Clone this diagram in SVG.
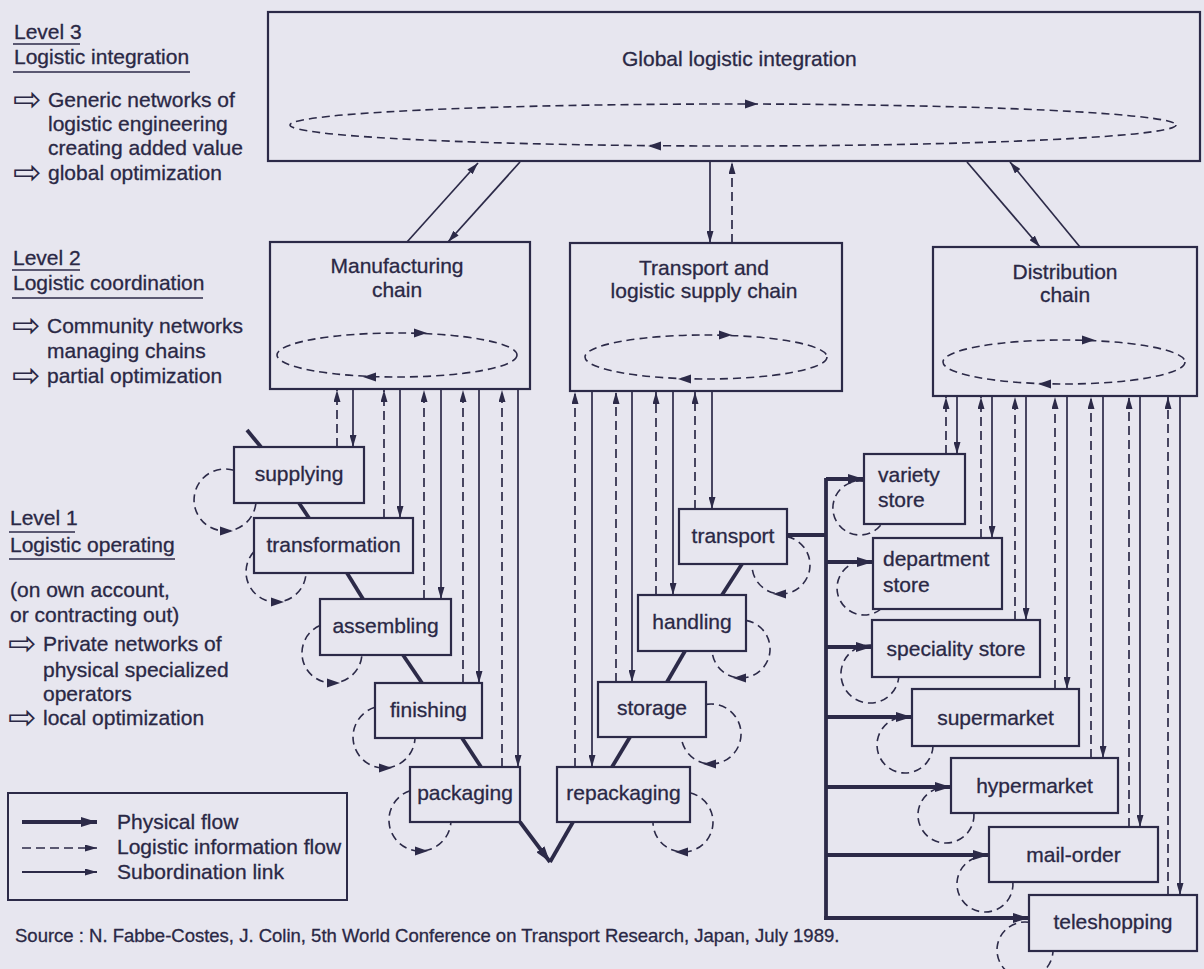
<svg xmlns="http://www.w3.org/2000/svg" xmlns:xlink="http://www.w3.org/1999/xlink" width="1204" height="969" viewBox="0 0 1204 969">
<style>
.bg{fill:#e7e6ef}
.box{fill:#e7e6ef;stroke:#2c2a48;stroke-width:2.2}
text{font-family:"Liberation Sans",Arial,Helvetica,sans-serif;font-size:21px;fill:#2a2845;stroke:#2a2845;stroke-width:0.3}
.c{text-anchor:middle}
.src{font-size:18.5px}
.sym{font-family:"DejaVu Sans",sans-serif;font-size:34px;stroke-width:0}
.sub{fill:none;stroke:#2c2a48;stroke-width:1.7;marker-end:url(#at)}
.inf{fill:none;stroke:#2c2a48;stroke-width:1.7;stroke-dasharray:9 5;marker-end:url(#at)}
.phy{fill:none;stroke:#2c2a48;stroke-width:3.8}
.phya{fill:none;stroke:#2c2a48;stroke-width:3.8;marker-end:url(#ak)}
.loop{fill:none;stroke:#2c2a48;stroke-width:1.6;stroke-dasharray:8 5}
.ul{stroke:#2c2a48;stroke-width:1.5}
.ahf{fill:#2c2a48}
</style>
<defs>
<marker id="at" viewBox="0 0 12 7" refX="12" refY="3.5" markerWidth="12" markerHeight="7" markerUnits="userSpaceOnUse" orient="auto"><path d="M0,0 L12,3.5 L0,7 Z" fill="#2c2a48"/></marker>
<marker id="ak" viewBox="0 0 16 10" refX="16" refY="5" markerWidth="16" markerHeight="10" markerUnits="userSpaceOnUse" orient="auto"><path d="M0,0 L16,5 L0,10 Z" fill="#2c2a48"/></marker>
<path id="ah" class="ahf" d="M5,0 L-8,-4.5 L-8,4.5 Z"/>
</defs>
<rect class="bg" x="0" y="0" width="1204" height="969"/>

<g id="levels">
<text x="14" y="39">Level 3</text>
<line class="ul" x1="13" y1="44" x2="80" y2="44"/>
<text x="14" y="64">Logistic integration</text>
<line class="ul" x1="13" y1="72" x2="190" y2="72"/>
<text class="sym" x="13" y="111">⇨</text>
<text x="48" y="107">Generic networks of</text>
<text x="48" y="131">logistic engineering</text>
<text x="48" y="155">creating added value</text>
<text class="sym" x="13" y="184">⇨</text>
<text x="48" y="180">global optimization</text>

<text x="13" y="265">Level 2</text>
<line class="ul" x1="12" y1="270" x2="80" y2="270"/>
<text x="13" y="290">Logistic coordination</text>
<line class="ul" x1="12" y1="298" x2="203" y2="298"/>
<text class="sym" x="12" y="337">⇨</text>
<text x="47" y="333">Community networks</text>
<text x="47" y="358">managing chains</text>
<text class="sym" x="12" y="387">⇨</text>
<text x="47" y="383">partial optimization</text>

<text x="10" y="525">Level 1</text>
<line class="ul" x1="9" y1="532" x2="75" y2="532"/>
<text x="10" y="552">Logistic operating</text>
<line class="ul" x1="9" y1="559" x2="175" y2="559"/>
<text x="10" y="597">(on own account,</text>
<text x="10" y="622">or contracting out)</text>
<text class="sym" x="8" y="655">⇨</text>
<text x="43" y="651">Private networks of</text>
<text x="43" y="677">physical specialized</text>
<text x="43" y="701">operators</text>
<text class="sym" x="8" y="729">⇨</text>
<text x="43" y="725">local optimization</text>
</g>

<g id="legend">
<rect x="8" y="793" width="339" height="107" fill="none" stroke="#2c2a48" stroke-width="2"/>
<line class="phya" x1="22" y1="822" x2="97" y2="822"/>
<line class="inf" x1="22" y1="848" x2="97" y2="848"/>
<line class="sub" x1="22" y1="872" x2="97" y2="872" style="stroke-width:2"/>
<text x="117" y="829">Physical flow</text>
<text x="117" y="854">Logistic information flow</text>
<text x="117" y="879">Subordination link</text>
</g>

<text class="src" x="15" y="942">Source : N. Fabbe-Costes, J. Colin, 5th World Conference on Transport Research, Japan, July 1989.</text>

<g id="node-global"><rect class="box" x="268" y="12" width="932" height="149"/><text x="622" y="66">Global logistic integration</text></g>
<g id="node-manufacturing"><rect class="box" x="270" y="242" width="260" height="147"/><text class="c" x="397" y="273">Manufacturing</text><text class="c" x="397" y="297">chain</text></g>
<g id="node-transport-chain"><rect class="box" x="570" y="243" width="272" height="148"/><text class="c" x="704" y="275">Transport and</text><text class="c" x="704" y="298">logistic supply chain</text></g>
<g id="node-distribution"><rect class="box" x="933" y="247" width="264" height="149"/><text class="c" x="1065" y="279">Distribution</text><text class="c" x="1065" y="302">chain</text></g>

<g id="node-supplying"><rect class="box" x="234" y="447" width="130" height="56"/><text class="c" x="299" y="481">supplying</text></g>
<g id="node-transformation"><rect class="box" x="254" y="518" width="159" height="55"/><text class="c" x="333.5" y="552">transformation</text></g>
<g id="node-assembling"><rect class="box" x="320" y="599" width="131" height="56"/><text class="c" x="385.5" y="633">assembling</text></g>
<g id="node-finishing"><rect class="box" x="375" y="683" width="107" height="55"/><text class="c" x="428.5" y="717">finishing</text></g>
<g id="node-packaging"><rect class="box" x="410" y="767" width="110" height="55"/><text class="c" x="465" y="800">packaging</text></g>
<g id="node-repackaging"><rect class="box" x="557" y="767" width="133" height="55"/><text class="c" x="623.5" y="800">repackaging</text></g>
<g id="node-storage"><rect class="box" x="598" y="682" width="108" height="55"/><text class="c" x="652" y="715">storage</text></g>
<g id="node-handling"><rect class="box" x="638" y="595" width="108" height="56"/><text class="c" x="692" y="629">handling</text></g>
<g id="node-transport"><rect class="box" x="679" y="509" width="108" height="55"/><text class="c" x="733" y="543">transport</text></g>

<g id="node-variety"><rect class="box" x="864" y="454" width="101" height="70"/><text x="878" y="482">variety</text><text x="878" y="507">store</text></g>
<g id="node-department"><rect class="box" x="873" y="538" width="129" height="71"/><text x="883" y="566">department</text><text x="883" y="592">store</text></g>
<g id="node-speciality"><rect class="box" x="872" y="620" width="168" height="57"/><text class="c" x="956" y="656">speciality store</text></g>
<g id="node-supermarket"><rect class="box" x="912" y="689" width="167" height="57"/><text class="c" x="995.5" y="725">supermarket</text></g>
<g id="node-hypermarket"><rect class="box" x="951" y="758" width="167" height="55"/><text class="c" x="1034.5" y="793">hypermarket</text></g>
<g id="node-mailorder"><rect class="box" x="989" y="827" width="169" height="55"/><text class="c" x="1073.5" y="862">mail-order</text></g>
<g id="node-teleshopping"><rect class="box" x="1029" y="895" width="168" height="56"/><text class="c" x="1113" y="929">teleshopping</text></g>

<g id="connectors">
<ellipse class="loop" cx="733" cy="125" rx="443" ry="21"/>
<use xlink:href="#ah" href="#ah" transform="translate(753,104)"/>
<use xlink:href="#ah" href="#ah" transform="translate(653,146) scale(-1,1)"/>
<ellipse class="loop" cx="397" cy="355" rx="120" ry="22"/>
<use xlink:href="#ah" href="#ah" transform="translate(422,333)"/>
<use xlink:href="#ah" href="#ah" transform="translate(368,377) scale(-1,1)"/>
<ellipse class="loop" cx="706" cy="357" rx="121" ry="22"/>
<use xlink:href="#ah" href="#ah" transform="translate(727,335)"/>
<use xlink:href="#ah" href="#ah" transform="translate(683,379) scale(-1,1)"/>
<ellipse class="loop" cx="1064" cy="362" rx="121" ry="22"/>
<use xlink:href="#ah" href="#ah" transform="translate(1090,340)"/>
<use xlink:href="#ah" href="#ah" transform="translate(1043,384) scale(-1,1)"/>

<line class="sub" x1="407" y1="242" x2="478" y2="163"/>
<line class="sub" x1="520" y1="162" x2="448" y2="242"/>
<line class="sub" x1="710" y1="162" x2="710" y2="243"/>
<line class="inf" x1="732" y1="243" x2="732" y2="162"/>
<line class="sub" x1="967" y1="162" x2="1040" y2="247"/>
<line class="sub" x1="1080" y1="247" x2="1010" y2="162"/>

<line class="inf" x1="337" y1="447" x2="337" y2="390"/>
<line class="sub" x1="353" y1="390" x2="353" y2="447"/>
<line class="inf" x1="384" y1="518" x2="384" y2="390"/>
<line class="sub" x1="400" y1="390" x2="400" y2="518"/>
<line class="inf" x1="424" y1="599" x2="424" y2="390"/>
<line class="sub" x1="441" y1="390" x2="441" y2="599"/>
<line class="inf" x1="463" y1="683" x2="463" y2="390"/>
<line class="sub" x1="479" y1="390" x2="479" y2="683"/>
<line class="inf" x1="502" y1="767" x2="502" y2="390"/>
<line class="sub" x1="518" y1="390" x2="518" y2="767"/>

<line class="inf" x1="575" y1="767" x2="575" y2="392"/>
<line class="sub" x1="592" y1="392" x2="592" y2="767"/>
<line class="inf" x1="616" y1="682" x2="616" y2="392"/>
<line class="sub" x1="632" y1="392" x2="632" y2="682"/>
<line class="inf" x1="656" y1="595" x2="656" y2="392"/>
<line class="sub" x1="673" y1="392" x2="673" y2="595"/>
<line class="inf" x1="695" y1="509" x2="695" y2="392"/>
<line class="sub" x1="712" y1="392" x2="712" y2="509"/>

<line class="inf" x1="946" y1="454" x2="946" y2="397"/>
<line class="sub" x1="957" y1="397" x2="957" y2="454"/>
<line class="inf" x1="981" y1="538" x2="981" y2="397"/>
<line class="sub" x1="992" y1="397" x2="992" y2="538"/>
<line class="inf" x1="1015" y1="620" x2="1015" y2="397"/>
<line class="sub" x1="1026" y1="397" x2="1026" y2="620"/>
<line class="inf" x1="1055" y1="689" x2="1055" y2="397"/>
<line class="sub" x1="1067" y1="397" x2="1067" y2="689"/>
<line class="inf" x1="1091" y1="758" x2="1091" y2="397"/>
<line class="sub" x1="1103" y1="397" x2="1103" y2="758"/>
<line class="inf" x1="1129" y1="827" x2="1129" y2="397"/>
<line class="sub" x1="1140" y1="397" x2="1140" y2="827"/>
<line class="inf" x1="1168" y1="895" x2="1168" y2="397"/>
<line class="sub" x1="1180" y1="397" x2="1180" y2="895"/>

<line class="phy" x1="247" y1="430" x2="261" y2="447"/>
<line class="phy" x1="299" y1="503" x2="309" y2="518"/>
<line class="phy" x1="347" y1="573" x2="363" y2="599"/>
<line class="phy" x1="403" y1="655" x2="422" y2="683"/>
<line class="phy" x1="462" y1="738" x2="481" y2="767"/>
<line class="phy" x1="742" y1="564" x2="722" y2="595"/>
<line class="phy" x1="685" y1="651" x2="667" y2="682"/>
<line class="phy" x1="630" y1="737" x2="612" y2="767"/>
<line class="phya" x1="520" y1="822" x2="550" y2="862"/>
<line class="phy" x1="573" y1="822" x2="550" y2="862"/>
<polyline class="phy" points="787,535 826,535"/>
<polyline class="phy" points="826,478 826,918"/>
<line class="phya" x1="826" y1="479" x2="864" y2="479"/>
<line class="phya" x1="826" y1="562" x2="873" y2="562"/>
<line class="phya" x1="826" y1="647" x2="872" y2="647"/>
<line class="phya" x1="826" y1="717" x2="912" y2="717"/>
<line class="phya" x1="826" y1="787" x2="951" y2="787"/>
<line class="phya" x1="826" y1="855" x2="989" y2="855"/>
<line class="phya" x1="824" y1="918" x2="1029" y2="918"/>

<path class="loop" d="M234,470.3 A31,31 0 1 0 255.9,503"/>
<use xlink:href="#ah" href="#ah" transform="translate(228,531)"/>
<path class="loop" d="M254,551.6 A30,30 0 1 0 306,573"/>
<use xlink:href="#ah" href="#ah" transform="translate(279,602)"/>
<path class="loop" d="M320,625.5 A30,30 0 1 0 361.9,655"/>
<use xlink:href="#ah" href="#ah" transform="translate(335,683)"/>
<path class="loop" d="M375,707.3 A31,31 0 1 0 415,738"/>
<use xlink:href="#ah" href="#ah" transform="translate(387,768)"/>
<path class="loop" d="M410,790.7 A31,31 0 1 0 450.9,822"/>
<use xlink:href="#ah" href="#ah" transform="translate(423,851)"/>
<path class="loop" d="M690,792.8 A30,30 0 1 1 653,822"/>
<use xlink:href="#ah" href="#ah" transform="translate(680,852) scale(-1,1)"/>
<path class="loop" d="M706,704.4 A30,30 0 1 1 681.2,737"/>
<use xlink:href="#ah" href="#ah" transform="translate(708,764) scale(-1,1)"/>
<path class="loop" d="M746,620.4 A29,29 0 1 1 712.1,651"/>
<use xlink:href="#ah" href="#ah" transform="translate(738,678) scale(-1,1)"/>
<path class="loop" d="M787,536.6 A29,29 0 1 1 752,564"/>
<use xlink:href="#ah" href="#ah" transform="translate(778,594) scale(-1,1)"/>

<path class="loop" d="M864,481.3 A27,27 0 1 0 881.6,524"/>
<path class="loop" d="M873,562.5 A27,27 0 1 0 881,609"/>
<path class="loop" d="M872,645.1 A29,29 0 1 0 898.8,677"/>
<path class="loop" d="M912,717.9 A28,28 0 1 0 933,746"/>
<path class="loop" d="M951,787.5 A28,28 0 1 0 973.9,813"/>
<path class="loop" d="M989,856.3 A28,28 0 1 0 1012.9,882"/>
<path class="loop" d="M1029,922.3 A28,28 0 1 0 1053,951"/>
</g>
</svg>
